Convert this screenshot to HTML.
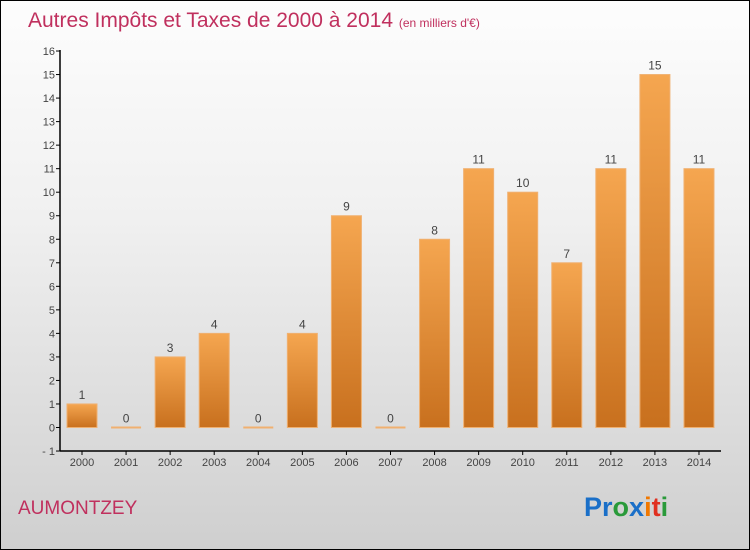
<!DOCTYPE html>
<html><head><meta charset="utf-8"><style>
body{margin:0}
#c{position:relative;width:748px;height:548px;border:1px solid #000;background:linear-gradient(#fdfdfd,#f0f0f0 40%,#cfcfcf);font-family:"Liberation Sans",sans-serif;overflow:hidden}
</style></head><body>
<div id="c">
<svg id="s" width="748" height="548">
<defs><linearGradient id="g" x1="0" y1="0" x2="0" y2="1"><stop offset="0" stop-color="#f5a650"/><stop offset="1" stop-color="#c8701e"/></linearGradient></defs>
<text x="27" y="26" font-size="21" fill="#c0305e">Autres Impôts et Taxes de 2000 à 2014 <tspan font-size="12">(en milliers d'€)</tspan></text>
<text x="17" y="513" font-size="19" fill="#c0305e">AUMONTZEY</text>
<text x="583" y="515" font-size="27" font-weight="bold"><tspan fill="#1a6fc8">Pr</tspan><tspan fill="#2a9a3a">o</tspan><tspan fill="#1a6fc8">x</tspan><tspan fill="#f07800">i</tspan><tspan fill="#e03020">t</tspan><tspan fill="#2a9a3a">i</tspan></text>
<g id="plot"></g>
</svg></div>
<script>
const categories=["2000","2001","2002","2003","2004","2005","2006","2007","2008","2009","2010","2011","2012","2013","2014"];
const values=[1,0,3,4,0,4,9,0,8,11,10,7,11,15,11];
const yTicks=[-1,0,1,2,3,4,5,6,7,8,9,10,11,12,13,14,15,16];
const NS="http://www.w3.org/2000/svg";
const g=document.getElementById('plot');
const y=v=>426.5-(v)*23.53;
const x=i=>81+i*44.07;
function mk(t,a){const e=document.createElementNS(NS,t);for(const k in a)e.setAttribute(k,a[k]);g.appendChild(e);return e;}
let ax=mk('line',{x1:59,y1:49,x2:59,y2:450,stroke:'#000','stroke-width':1.5});


let xa=mk('line',{x1:59,y1:450,x2:720,y2:450,stroke:'#000','stroke-width':1.5});


yTicks.forEach(v=>{
 const tk=mk('line',{x1:55,y1:y(v),x2:59,y2:y(v),stroke:'#000'});
 
 
 const t=mk('text',{x:54,y:y(v)+4,'font-size':11,fill:'#444','text-anchor':'end'});
 t.textContent=v===-1?'- 1':v;
 
 
});
categories.forEach((c,i)=>{
 const cx=x(i),v=values[i];
 const tk=mk('line',{x1:cx,y1:450,x2:cx,y2:454,stroke:'#000'});
 
 
 const t=mk('text',{x:cx,y:465,'font-size':11,fill:'#444','text-anchor':'middle'});
 t.textContent=c;
 
 
 let b;
 if(v>0){b=mk('rect',{x:cx-15,y:y(v),width:30,height:y(0)-y(v),fill:'url(#g)',stroke:'#f0b070','stroke-width':1});}
 else{b=mk('rect',{x:cx-15,y:y(0)-1,width:30,height:2,fill:'#f0b070'});}
 
 
 const l=mk('text',{x:cx,y:y(v)-5,'font-size':12,fill:'#444','text-anchor':'middle'});
 l.textContent=v;
 
 
});
</script>
</body></html>
